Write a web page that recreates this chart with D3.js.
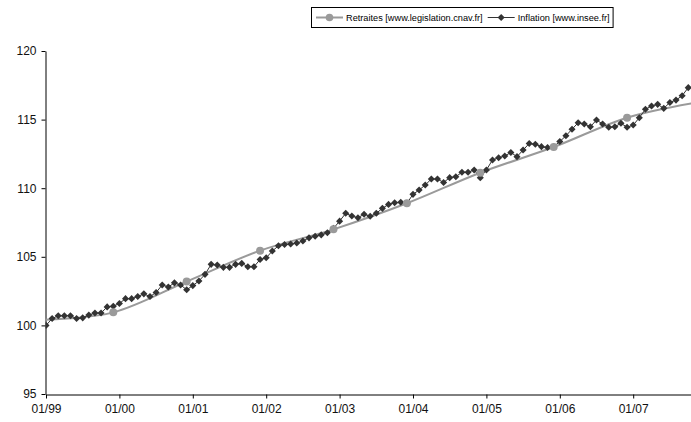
<!DOCTYPE html>
<html>
<head>
<meta charset="utf-8">
<script src="https://cdn.jsdelivr.net/npm/d3@7"></script>
<style>
  body { margin: 0; background: #fff; }
  svg { display: block; font-family: Arial, "Liberation Sans", sans-serif; }
</style>
</head>
<body>
<svg id="chart" width="691" height="422"></svg>
<script>
// ---- data ----
// Monthly inflation index, Jan 1999 (index 0) .. Oct 2007 (index 105)
const inflation = [
  100.0, 100.5, 100.7, 100.7, 100.7, 100.5, 100.55, 100.75, 100.9, 100.9, 101.35, 101.4,
  101.6, 101.95, 101.95, 102.1, 102.3, 102.1, 102.4, 102.95, 102.8, 103.1, 102.95, 102.6,
  102.9, 103.24, 103.72, 104.45, 104.4, 104.23, 104.23, 104.45, 104.52, 104.28, 104.28, 104.8,
  104.93, 105.42, 105.8, 105.9, 105.93, 106.0, 106.15, 106.38, 106.5, 106.6, 106.75, 107.07,
  107.6, 108.17, 107.97, 107.85, 108.1, 107.95, 108.17, 108.53, 108.82, 108.94, 108.97, 108.9,
  109.55, 109.87, 110.23, 110.67, 110.67, 110.42, 110.77, 110.84, 111.16, 111.16, 111.33, 110.77,
  111.33, 112.06, 112.22, 112.35, 112.6, 112.3, 112.78, 113.26, 113.2, 113.03, 112.96, 113.03,
  113.4, 113.82, 114.3, 114.77, 114.68, 114.48, 114.97, 114.68, 114.44, 114.48, 114.73, 114.44,
  114.6, 115.14, 115.75, 115.99, 116.11, 115.82, 116.25, 116.42, 116.74, 117.33
];
// Pension index, one value per December (month index relative to Jan 1999)
const retraitesMonths = [-1, 11, 23, 35, 47, 59, 71, 83, 95, 107];
const retraites = [100.4, 100.95, 103.2, 105.45, 107.0, 108.9, 111.13, 113.0, 115.14, 116.3];
const tickMonths = [0, 12, 24, 36, 48, 60, 72, 84, 96];
const tickLabels = ["01/99", "01/00", "01/01", "01/02", "01/03", "01/04", "01/05", "01/06", "01/07"];
const yTicks = [95, 100, 105, 110, 115, 120];
const seriesNames = ["Retraites [www.legislation.cnav.fr]", "Inflation [www.insee.fr]"];

// ---- layout ----
const W = 691, H = 422;
const plotLeft = 46, plotRight = 691, plotTop = 51, plotBottom = 394;
const grayColor = "#9a9a9a", darkColor = "#333333";

const svg = d3.select("#chart");

const x = d3.scaleLinear().domain([0, 105.45]).range([plotLeft, plotRight]);
const y = d3.scaleLinear().domain([95, 120]).range([plotBottom, plotTop]);

// clip
svg.append("defs").append("clipPath").attr("id", "plotclip")
  .append("rect").attr("x", plotLeft - 0.5).attr("y", 0)
  .attr("width", plotRight - plotLeft + 0.5).attr("height", H);

// axes
const yAxis = d3.axisLeft(y).tickValues(yTicks).tickFormat(d3.format("d"))
  .tickSize(4).tickSizeOuter(0).tickPadding(5);
const gy = svg.append("g").attr("transform", `translate(${plotLeft - 0.5},0)`).call(yAxis);

const xAxis = d3.axisBottom(x).tickValues(tickMonths)
  .tickFormat((d, i) => tickLabels[i]).tickSize(4).tickSizeOuter(0).tickPadding(6);
const gx = svg.append("g").attr("transform", `translate(0,${plotBottom + 0.5})`).call(xAxis);

[gx, gy].forEach(g => {
  g.selectAll("text").attr("font-size", 12).attr("font-family", "Arial, 'Liberation Sans', sans-serif").attr("fill", "#111");
  g.selectAll("line,path").attr("stroke", "#000").attr("stroke-width", 1);
});

// Retraites line (smoothed), clipped to plot area
const plot = svg.append("g").attr("clip-path", "url(#plotclip)");
const retData = retraitesMonths.map((m, i) => [m, retraites[i]]);
plot.append("path")
  .datum(retData)
  .attr("fill", "none")
  .attr("stroke", grayColor)
  .attr("stroke-width", 2)
  .attr("d", d3.line().x(d => x(d[0])).y(d => y(d[1])).curve(d3.curveCardinal.tension(0)));

// Inflation line + markers
const infData = inflation.map((v, i) => [i, v]);
plot.append("path")
  .datum(infData)
  .attr("fill", "none")
  .attr("stroke", darkColor)
  .attr("stroke-width", 1)
  .attr("d", d3.line().x(d => x(d[0])).y(d => y(d[1])));

const diamond = d3.symbol().type(d3.symbolSquare).size(25);
plot.selectAll("path.inf")
  .data(infData)
  .join("path")
  .attr("class", "inf")
  .attr("d", diamond)
  .attr("fill", darkColor)
  .attr("transform", d => `translate(${x(d[0])},${y(d[1])}) rotate(45)`);

// Retraites markers
plot.selectAll("circle.ret")
  .data(retData)
  .join("circle")
  .attr("class", "ret")
  .attr("cx", d => x(d[0]))
  .attr("cy", d => y(d[1]))
  .attr("r", 4)
  .attr("fill", grayColor);

// ---- legend ----
const legend = svg.append("g").attr("font-size", 9.2).attr("font-family", "Arial, 'Liberation Sans', sans-serif");
const legTop = 7, legH = 20, legLeft = 311;
const box = legend.append("rect").attr("y", legTop + 0.5).attr("x", legLeft + 0.5)
  .attr("height", legH).attr("fill", "#fff").attr("stroke", "#000").attr("stroke-width", 1);
let cx = legLeft + 5;
const cy = legTop + legH / 2 + 0.5;
seriesNames.forEach((name, i) => {
  const col = i === 0 ? grayColor : darkColor;
  legend.append("line").attr("x1", cx).attr("x2", cx + 27).attr("y1", cy).attr("y2", cy)
    .attr("stroke", col).attr("stroke-width", i === 0 ? 2 : 1);
  if (i === 0) {
    legend.append("circle").attr("cx", cx + 13.5).attr("cy", cy).attr("r", 3.8).attr("fill", col);
  } else {
    legend.append("path").attr("d", diamond).attr("fill", col)
      .attr("transform", `translate(${cx + 13.5},${cy}) rotate(45)`);
  }
  const t = legend.append("text").attr("x", cx + 30).attr("y", cy).attr("dy", "0.35em")
    .attr("fill", "#000").text(name);
  cx += 30 + t.node().getComputedTextLength() + 5;
});
box.attr("width", cx - legLeft - 2);
</script>
</body>
</html>
